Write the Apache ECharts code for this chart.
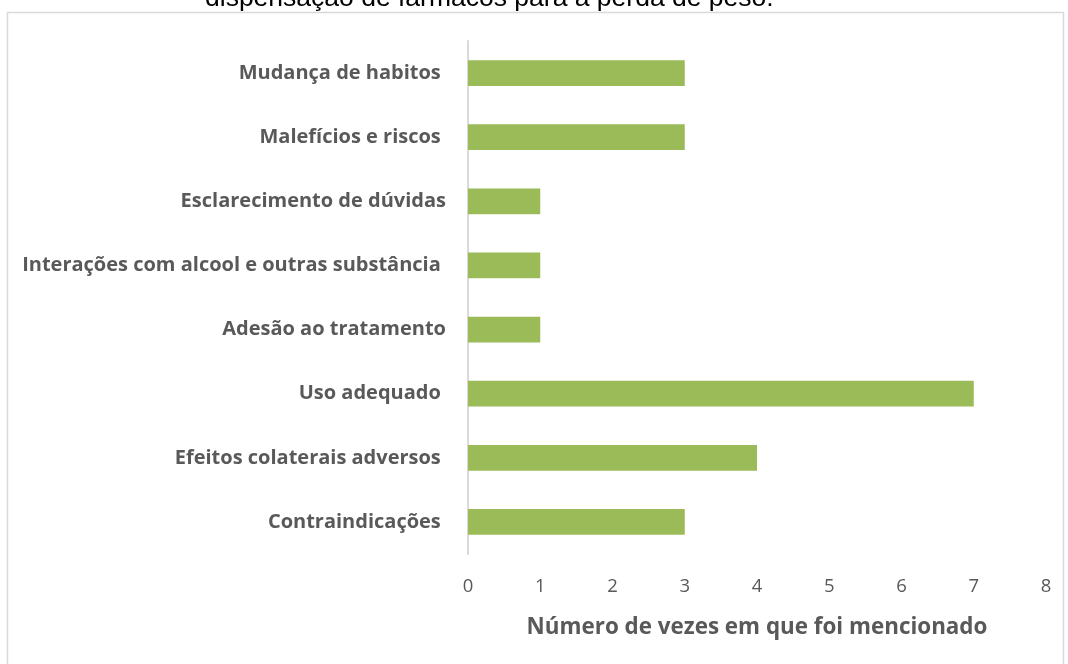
<!DOCTYPE html>
<html>
<head>
<meta charset="utf-8">
<script src="https://cdn.jsdelivr.net/npm/echarts@6/dist/echarts.min.js"></script>
<style>html,body{margin:0;padding:0;background:#fff;}#c{width:1068px;height:664px;}</style>
</head>
<body>
<div id="c"></div>
<script>
const categories = [
  "Contraindicações ",
  "Efeitos colaterais adversos ",
  "Uso adequado ",
  "Adesão ao tratamento",
  "Interações com alcool e outras substância ",
  "Esclarecimento de dúvidas",
  "Malefícios e riscos ",
  "Mudança de habitos "
];
const values = [3, 4, 7, 1, 1, 1, 3, 3];
const xTicks = [0, 1, 2, 3, 4, 5, 6, 7, 8];
const titleText = "dispensação de fármacos para a perda de peso.";
const xAxisName = "Número de vezes em que foi mencionado";

const chart = echarts.init(document.getElementById('c'), null, {renderer: 'canvas'});
chart.setOption({
  animation: false,
  backgroundColor: '#ffffff',
  graphic: [
    {type: 'rect', shape: {x: 7.5, y: 12.5, width: 1056, height: 700}, style: {fill: 'none', stroke: '#d9d9d9', lineWidth: 1.5}, silent: true},
    {type: 'text', left: 205, top: -15, style: {text: titleText, font: '26.5px "Liberation Sans", Arial, sans-serif', fill: '#000000'}, silent: true}
  ],
  grid: {left: 468, right: 22, top: 41, bottom: 110, containLabel: false},
  xAxis: {
    type: 'value', min: xTicks[0], max: xTicks[xTicks.length - 1], interval: 1,
    axisLine: {show: false}, axisTick: {show: false}, splitLine: {show: false},
    axisLabel: {margin: 23, color: '#595959', fontSize: 18.5, fontFamily: '"Open Sans", sans-serif'},
    name: xAxisName, nameLocation: 'middle', nameGap: 63,
    nameTextStyle: {color: '#595959', fontSize: 22.4, fontWeight: 'bold', fontFamily: '"Open Sans", sans-serif'}
  },
  yAxis: {
    type: 'category', data: categories,
    axisLine: {show: true, lineStyle: {color: '#d9d9d9', width: 2}},
    axisTick: {show: false},
    axisLabel: {margin: 22, color: '#595959', fontSize: 20, fontWeight: 'bold', fontFamily: '"Open Sans", sans-serif'}
  },
  series: [{
    type: 'bar', data: values, barCategoryGap: '60%',
    itemStyle: {color: '#9bbb59'}
  }]
});
</script>
</body>
</html>
